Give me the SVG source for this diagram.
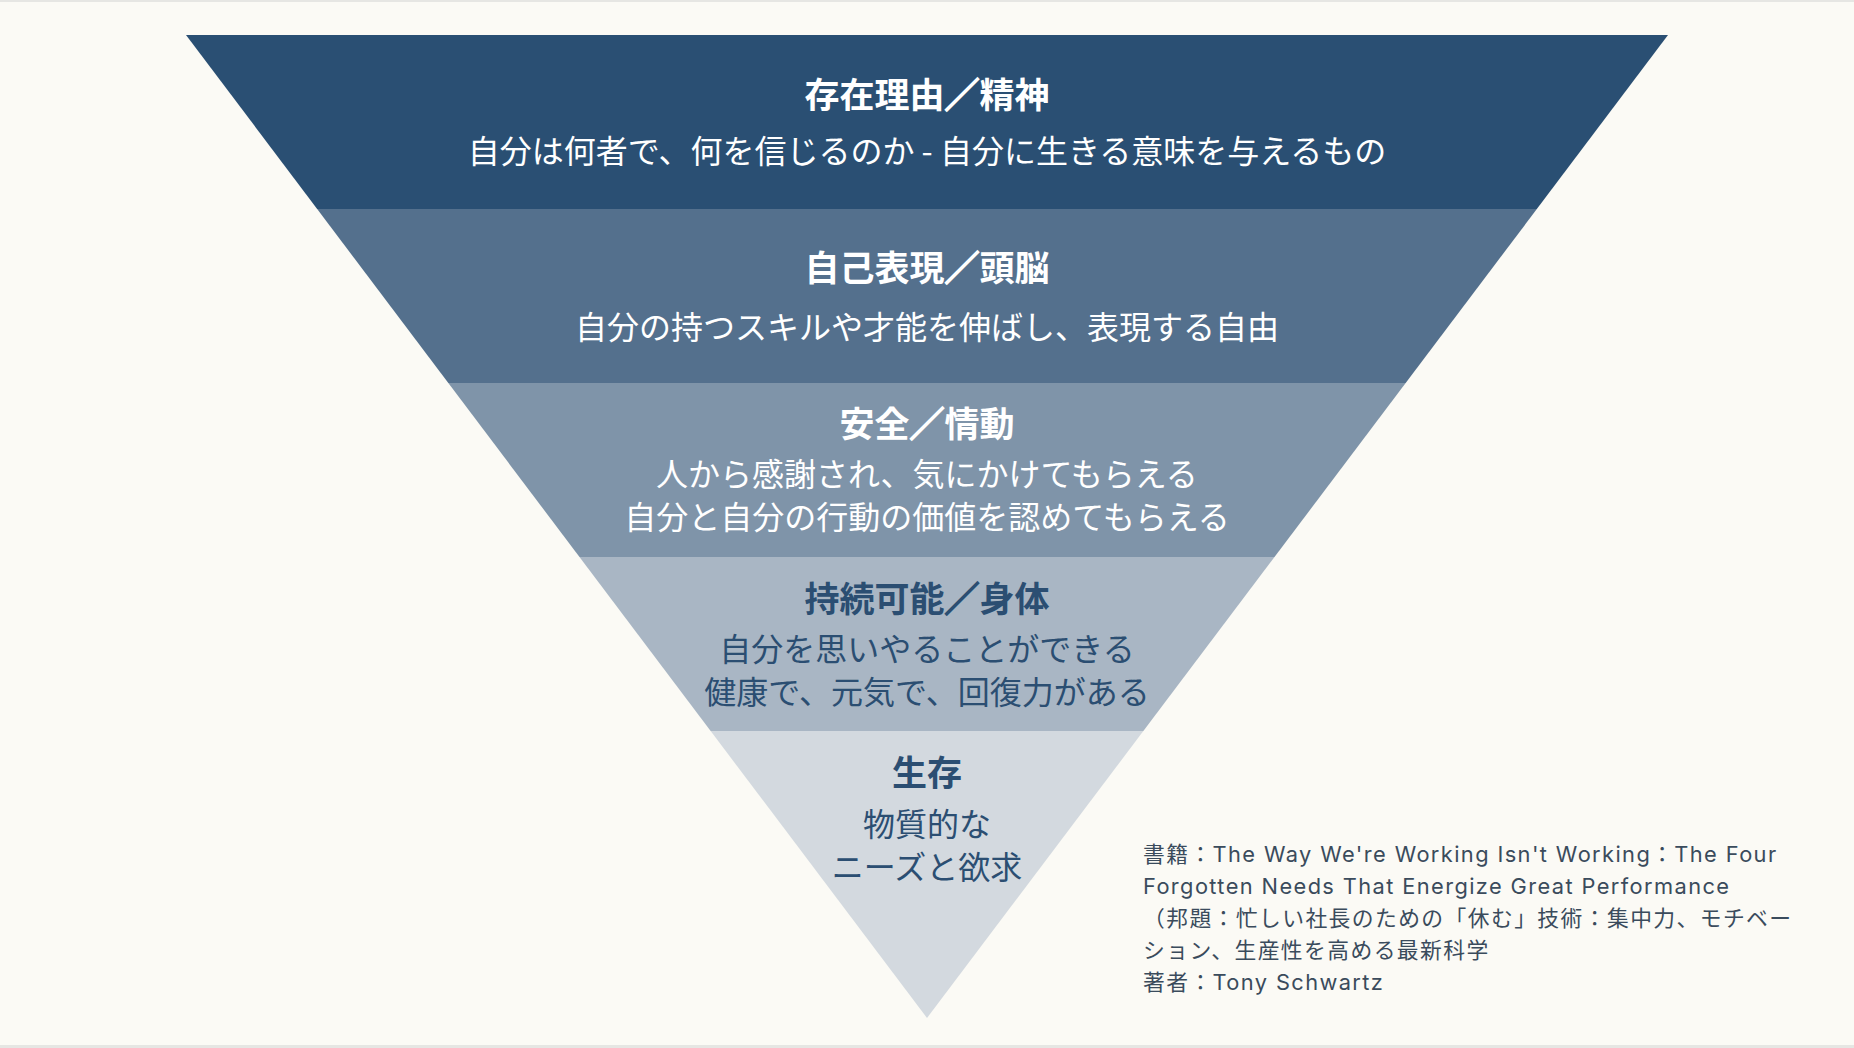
<svg xmlns="http://www.w3.org/2000/svg" width="1854" height="1048" viewBox="0 0 1854 1048">
<style>
.t{font-family:"Noto Sans CJK JP","Noto Sans",sans-serif;text-anchor:middle;}
.h{font-size:35px;font-weight:700;}
.s{font-size:32px;font-weight:400;}
.w{fill:#ffffff;}
.d{fill:#2b4e72;}
.sl{stroke-width:1.6px;}
.w .sl{stroke:#ffffff;}
.d .sl{stroke:#2b4e72;}
.c{font-family:Inter,"Noto Sans CJK JP",sans-serif;font-size:21.8px;letter-spacing:1.4px;fill:#3a4b5c;}
</style>
<rect x="0" y="0" width="1854" height="1048" fill="#fbfaf5"/>
<rect x="0" y="0" width="1854" height="2" fill="#e6e6e3"/>
<rect x="0" y="1045" width="1854" height="3" fill="#e6e6e3"/>
<g id="band1">
<polygon points="186,35 1668,35 1536.84,209 317.16,209" fill="#2a4f73"/>
<text class="t h w" x="927" y="108">存在理由<tspan class="sl">／</tspan>精神</text>
<text class="t s w" x="927" y="162.5">自分は何者で、何を信じるのか - 自分に生きる意味を与えるもの</text>
</g>
<g id="band2">
<polygon points="317.16,209 1536.84,209 1405.67,383 448.33,383" fill="#54708d"/>
<text class="t h w" x="927" y="280.5">自己表現<tspan class="sl">／</tspan>頭脳</text>
<text class="t s w" x="927" y="339">自分の持つスキルや才能を伸ばし、表現する自由</text>
</g>
<g id="band3">
<polygon points="448.33,383 1405.67,383 1274.51,557 579.49,557" fill="#7f94a9"/>
<text class="t h w" x="927" y="437">安全<tspan class="sl">／</tspan>情動</text>
<text class="t s w" x="927" y="486">人から感謝され、気にかけてもらえる</text>
<text class="t s w" x="927" y="528.5">自分と自分の行動の価値を認めてもらえる</text>
</g>
<g id="band4">
<polygon points="579.49,557 1274.51,557 1143.35,731 710.65,731" fill="#a9b6c4"/>
<text class="t h d" x="927" y="612">持続可能<tspan class="sl">／</tspan>身体</text>
<text class="t s d" x="927" y="661">自分を思いやることができる</text>
<text class="t s d" x="927" y="703.5">健康で、元気で、回復力がある</text>
</g>
<g id="band5">
<polygon points="710.65,731 1143.35,731 927,1018" fill="#d3d9df"/>
<text class="t h d" x="927" y="786">生存</text>
<text class="t s d" x="927" y="836">物質的な</text>
<text class="t s d" x="927" y="879">ニーズと欲求</text>
</g>
<g id="citation">
<text class="c" x="1143" y="861.5">書籍：The Way We're Working Isn't Working：The Four</text>
<text class="c" x="1143" y="893.5">Forgotten Needs That Energize Great Performance</text>
<text class="c" x="1143" y="925.5">（邦題：忙しい社長のための「休む」技術：集中力、モチベー</text>
<text class="c" x="1143" y="957.5">ション、生産性を高める最新科学</text>
<text class="c" x="1143" y="989.5">著者：Tony Schwartz</text>
</g>
<g id="connectors"/>
</svg>
